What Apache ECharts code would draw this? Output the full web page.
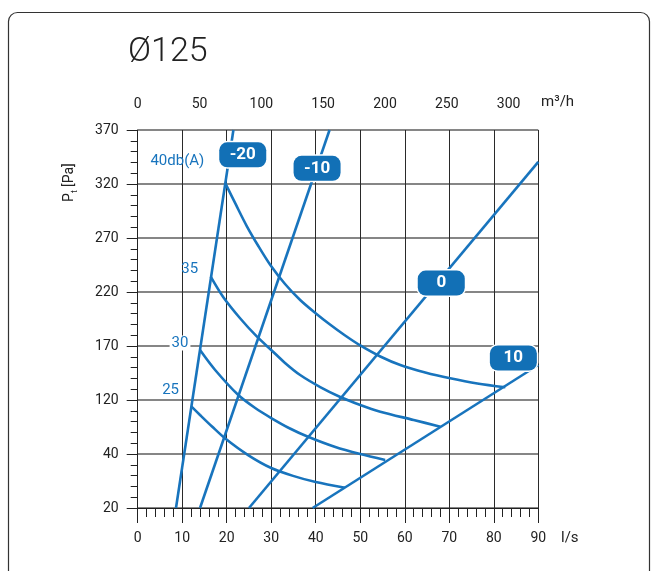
<!DOCTYPE html>
<html>
<head>
<meta charset="utf-8">
<script src="https://cdn.jsdelivr.net/npm/echarts@6/dist/echarts.min.js"></script>
<style>
  html, body { margin: 0; padding: 0; background: #fff; }
  #chart { width: 652px; height: 571px; }
</style>
</head>
<body>
<div id="chart"></div>
<script>
// Pressure tick labels (Pa) – the pressure scale is drawn with evenly spaced ticks
const pressureTicks = [20, 40, 120, 170, 220, 270, 320, 370];
// Airflow scales
const flowMaxLs = 90;          // l/s
const m3hPerLs = 3.6;          // 1 l/s = 3.6 m³/h
const m3hTickStep = 50;

// Damper position lines: [airflow l/s, total pressure Pa]
const damperNames = ['-20', '-10', '0', '10'];
const damperM20 = [[8.6, 20], [21.5, 370]];
const damperM10 = [[14.0, 20], [43.1, 370]];
const damper0   = [[25.0, 20], [90.0, 340.5]];
const damper10  = [[39.3, 20], [90.0, 152.4]];

// Sound level curves: [airflow l/s, total pressure Pa]
const noiseNames = ['25', '30', '35', '40db(A)'];
const noise25 = [[12.1, 110.1], [14.0, 97.8], [16.7, 80.7], [19.6, 63.3], [24.8, 39.6],
                 [30.0, 34.8], [34.9, 31.9], [40.0, 29.6], [46.6, 27.5]];
const noise30 = [[14.0, 166.3], [17.4, 147.8], [22.6, 124.6], [26.4, 108.1], [30.0, 93.3],
                 [34.2, 77.8], [38.4, 65.2], [44.4, 50.4], [50.0, 40.0], [55.6, 37.8]];
const noise35 = [[16.4, 234.2], [19.2, 215.4], [23.0, 195.7], [26.8, 178.6], [30.0, 166.3],
                 [33.1, 154.3], [36.5, 143.1], [41.0, 132.0], [45.5, 122.8], [50.0, 112.6],
                 [54.5, 102.7], [62.0, 90.4], [68.0, 80.5]];
const noise40 = [[19.7, 320.6], [22.1, 300.6], [24.5, 281.1], [27.1, 262.6], [29.8, 245.0],
                 [33.1, 227.4], [36.5, 212.6], [39.9, 200.6], [43.2, 189.9], [46.6, 179.7],
                 [50.0, 170.5], [54.5, 160.3], [59.0, 152.4], [64.6, 145.5], [70.2, 140.1],
                 [76.3, 135.3], [82.6, 131.8]];

// ---- layout / style ----
const BLUE = '#1874bd';
const TAG_BLUE = '#1270b6';
const FONT = 'Roboto, "DejaVu Sans Condensed", sans-serif';

// tag anchors for damper labels, [l/s, Pa]
const damperTagAt = [[23.6, 347], [40.3, 334.5], [68.2, 228.3], [84.4, 158.9]];
// label offsets (px) from the first point of each sound curve
const noiseLabelOffset = [[-21, -16], [-20, -7], [-21, -7], [-48, -22]];

// map a pressure in Pa onto the evenly spaced tick positions
function paToPos(p) {
  const t = pressureTicks, n = t.length;
  if (p <= t[1]) return (p - t[0]) / (t[1] - t[0]);
  for (let i = 1; i < n - 1; i++) {
    if (p <= t[i + 1]) return i + (p - t[i]) / (t[i + 1] - t[i]);
  }
  return n - 1 + (p - t[n - 1]) / (t[n - 1] - t[n - 2]);
}
const toPlot = arr => arr.map(([q, p]) => [q, paToPos(p)]);

const dampers = [damperM20, damperM10, damper0, damper10];
const noises = [noise25, noise30, noise35, noise40];

const series = [];
noises.forEach((d, i) => {
  const pts = toPlot(d);
  series.push({
    type: 'line',
    name: noiseNames[i],
    data: pts,
    smooth: 0.3,
    showSymbol: false,
    symbol: 'none',
    lineStyle: { color: BLUE, width: 2.6 },
    z: 3,
    markPoint: {
      symbol: 'circle',
      symbolSize: 0,
      silent: true,
      data: [{
        coord: pts[0],
        label: {
          show: true,
          formatter: noiseNames[i],
          position: 'inside',
          offset: noiseLabelOffset[i],
          color: BLUE,
          fontFamily: FONT,
          fontSize: 15,
          backgroundColor: i === 1 ? '#fff' : 'transparent',
          padding: [0, 2]
        }
      }]
    }
  });
});
dampers.forEach((d, i) => {
  series.push({
    type: 'line',
    name: damperNames[i],
    data: toPlot(d),
    showSymbol: false,
    symbol: 'none',
    lineStyle: { color: BLUE, width: 2.6 },
    z: 4,
    markPoint: {
      symbol: 'circle',
      symbolSize: 0,
      silent: true,
      z: 10,
      data: [{
        coord: [damperTagAt[i][0], paToPos(damperTagAt[i][1])],
        label: {
          show: true,
          formatter: damperNames[i],
          position: 'inside',
          color: '#fff',
          fontFamily: FONT,
          fontSize: 17,
          fontWeight: 'bold',
          backgroundColor: TAG_BLUE,
          borderColor: '#fff',
          borderWidth: 1.5,
          borderRadius: 8,
          width: 27,
          height: 17,
          lineHeight: 17,
          align: 'center',
          verticalAlign: 'middle',
          padding: [4, 10]
        }
      }]
    }
  });
});

const chart = echarts.init(document.getElementById('chart'), null, { renderer: 'canvas' });
chart.setOption({
  backgroundColor: '#fff',
  animation: false,
  title: {
    text: 'Ø125',
    left: 123,
    top: 30,
    textStyle: { fontFamily: FONT, fontSize: 34, fontWeight: 300, color: '#222' }
  },
  grid: { left: 137.7, right: 113.7, top: 130, bottom: 63 },
  xAxis: [{
    type: 'value',
    position: 'bottom',
    min: 0,
    max: flowMaxLs,
    interval: 10,
    axisLine: { show: true, onZero: false, lineStyle: { color: '#222', width: 1 } },
    axisTick: { show: true, inside: false, length: 15, lineStyle: { color: '#222', width: 1 } },
    minorTick: { show: true, splitNumber: 5, length: 9, lineStyle: { color: '#222', width: 1 } },
    splitLine: { show: true, lineStyle: { color: '#2a2a2a', width: 1 } },
    axisLabel: { margin: 23, color: '#222', fontFamily: FONT, fontSize: 14 }
  }, {
    type: 'value',
    position: 'top',
    min: 0,
    max: flowMaxLs * m3hPerLs,
    interval: m3hTickStep,
    axisLine: { show: false },
    axisTick: { show: false },
    splitLine: { show: false },
    axisLabel: { margin: 19, color: '#222', fontFamily: FONT, fontSize: 14, showMaxLabel: false }
  }],
  yAxis: {
    type: 'value',
    min: 0,
    max: pressureTicks.length - 1,
    interval: 1,
    axisLine: { show: true, onZero: false, lineStyle: { color: '#222', width: 1 } },
    axisTick: { show: true, inside: false, length: 11, lineStyle: { color: '#222', width: 1 } },
    minorTick: { show: true, splitNumber: 5, length: 7, lineStyle: { color: '#222', width: 1 } },
    splitLine: { show: true, lineStyle: { color: '#5e5e5e', width: 1.5 } },
    axisLabel: {
      margin: 19,
      color: '#222',
      fontFamily: FONT,
      fontSize: 14,
      formatter: v => String(pressureTicks[Math.round(v)])
    }
  },
  graphic: [
    {
      type: 'rect',
      silent: true,
      shape: { x: 8.5, y: 12.5, width: 641, height: 620, r: 9 },
      style: { fill: 'none', stroke: '#333', lineWidth: 1.2 },
      z: -1
    },
    {
      type: 'text', left: 541, top: 95,
      style: { text: 'm³/h', fontFamily: FONT, fontSize: 15, fill: '#222' }
    },
    {
      type: 'text', left: 561, top: 531,
      style: { text: 'l/s', fontFamily: FONT, fontSize: 15, fill: '#222' }
    },
    {
      type: 'group',
      x: 69, y: 182,
      rotation: Math.PI / 2,
      children: [
        { type: 'text', x: -20, y: 0,
          style: { text: 'P', fontFamily: FONT, fontSize: 14, fill: '#222', verticalAlign: 'middle', align: 'left' } },
        { type: 'text', x: -11, y: 6,
          style: { text: 't', fontFamily: FONT, fontSize: 9, fill: '#222', verticalAlign: 'middle', align: 'left' } },
        { type: 'text', x: -5, y: 0,
          style: { text: '[Pa]', fontFamily: FONT, fontSize: 14, fill: '#222', verticalAlign: 'middle', align: 'left' } }
      ]
    }
  ],
  series: series
});
</script>
</body>
</html>
